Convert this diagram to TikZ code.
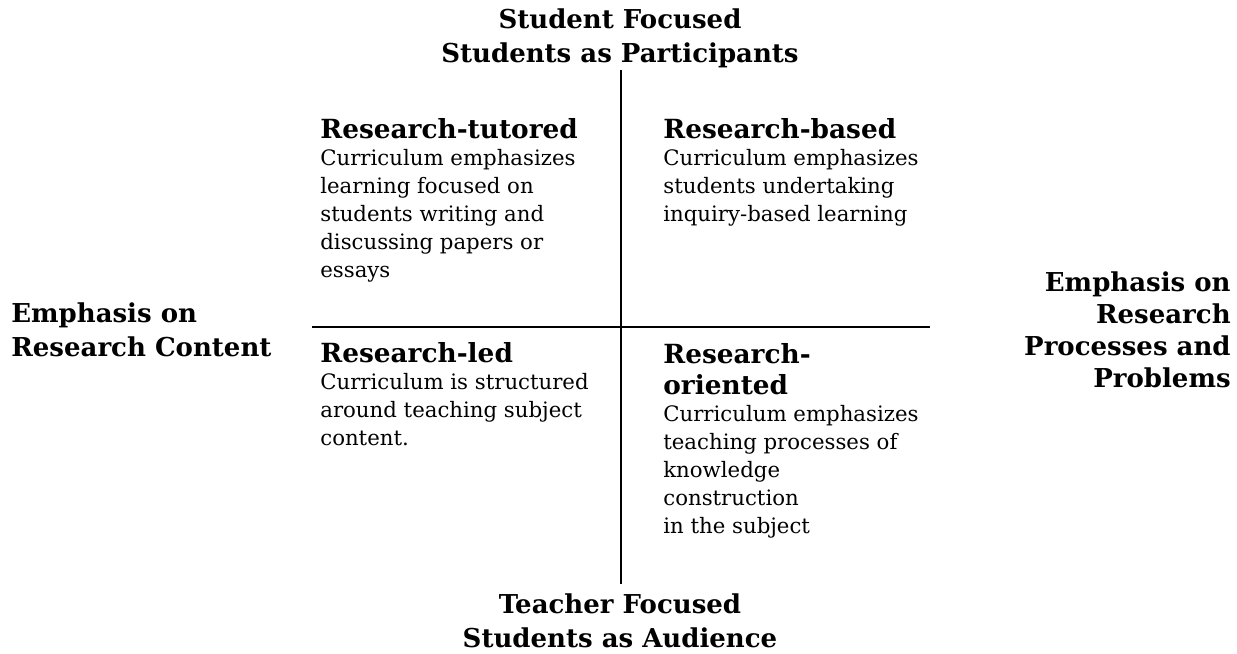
\documentclass[tikz,border=0pt]{standalone}
\usepackage{fontspec}
\setmainfont{DejaVu Serif}
\usetikzlibrary{positioning}

\begin{document}
\begin{tikzpicture}[x=0.02cm,y=-0.02cm,
    axis/.style={line width=1.1pt},
    axislabel/.style={inner sep=0pt,font=\bfseries\fontsize{14.8}{19.5}\selectfont},
    heading/.style={anchor=base west,inner sep=0pt,align=left,font=\bfseries\fontsize{15}{17.6}\selectfont},
    body/.style={inner sep=0pt,align=left,font=\fontsize{12.1}{16}\selectfont}]

        \useasboundingbox (0,0) rectangle (1237,653);

        % Axes
        \coordinate (n) at (620.7,70);
        \coordinate (s) at (620.7,584);
        \coordinate (w) at (312,326.7);
        \coordinate (e) at (930,326.7);
        \draw[axis] (n) -- (s);
        \draw[axis] (w) -- (e);

        % Axis labels
        \node[axislabel,align=center] (top) at (620,38) {Student Focused\\Students as Participants};
        \node[axislabel,align=center] (bottom) at (620,621) {Teacher Focused\\Students as Audience};
        \node[axislabel,align=left,anchor=west] (left) at (11,330) {Emphasis on\\Research Content};
        \node[axislabel,align=right,anchor=east,font=\bfseries\fontsize{14.8}{18.2}\selectfont] (right) at (1231,330)
            {Emphasis on\\Research\\Processes and\\Problems};

        % Quadrants
        \node[heading] (tutored) at (320,138) {Research-tutored};
        \node[body,below=6pt of tutored.base west,anchor=north west] (tutoredtxt)
            {Curriculum emphasizes\\learning focused on\\students writing and\\discussing papers or\\essays};

        \node[heading] (based) at (663,138) {Research-based};
        \node[body,below=6pt of based.base west,anchor=north west] (basedtxt)
            {Curriculum emphasizes\\students undertaking\\inquiry-based learning};

        \node[heading] (led) at (320,362) {Research-led};
        \node[body,below=6pt of led.base west,anchor=north west] (ledtxt)
            {Curriculum is structured\\around teaching subject\\content.};

        \node[heading,anchor=north west] (oriented) at (663,343) {Research-\\oriented};
        \node[body,below=6pt of oriented.base west,anchor=north west] (orientedtxt)
            {Curriculum emphasizes\\teaching processes of\\knowledge\\construction\\in the subject};

\end{tikzpicture}
\end{document}
